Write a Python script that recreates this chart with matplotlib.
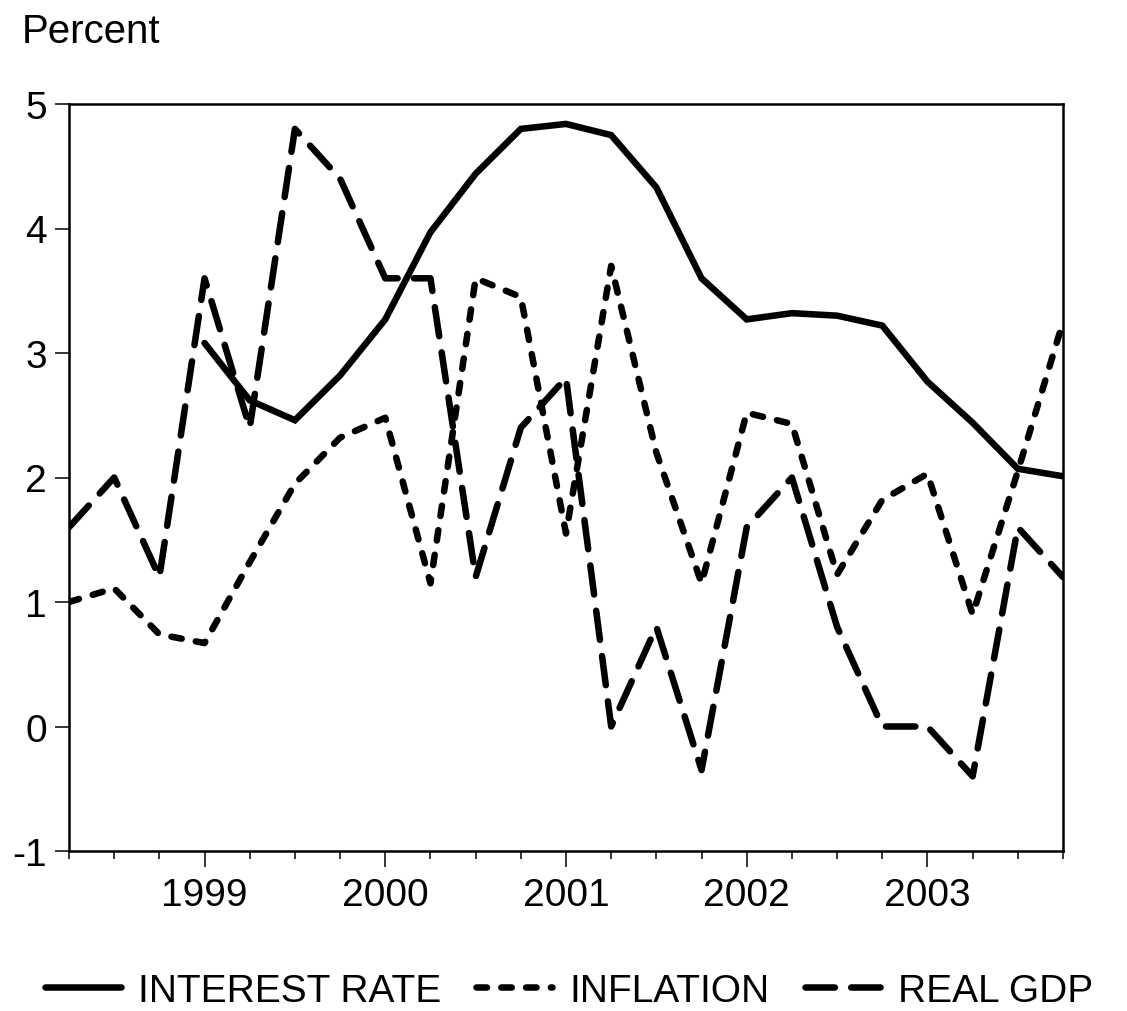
import matplotlib
matplotlib.use("Agg")
import matplotlib.pyplot as plt
import numpy as np

plt.rcParams['font.family'] = ['Liberation Sans', 'DejaVu Sans']

# Quarterly periods 1998Q2 .. 2003Q4 (decimal year, Q1 = year.00)
quarters = ["1998Q2", "1998Q3", "1998Q4",
            "1999Q1", "1999Q2", "1999Q3", "1999Q4",
            "2000Q1", "2000Q2", "2000Q3", "2000Q4",
            "2001Q1", "2001Q2", "2001Q3", "2001Q4",
            "2002Q1", "2002Q2", "2002Q3", "2002Q4",
            "2003Q1", "2003Q2", "2003Q3", "2003Q4"]

interest_rate = [np.nan, np.nan, np.nan,
                 3.08, 2.62, 2.46, 2.82,
                 3.27, 3.97, 4.44, 4.80,
                 4.84, 4.75, 4.33, 3.60,
                 3.27, 3.32, 3.30, 3.22,
                 2.77, 2.44, 2.07, 2.01]

inflation = [1.00, 1.11, 0.74,
             0.67, 1.32, 1.95, 2.32,
             2.48, 1.15, 3.60, 3.45,
             1.55, 3.70, 2.20, 1.15,
             2.52, 2.43, 1.22, 1.82,
             2.03, 0.90, 2.05, 3.25]

real_gdp = [1.6, 2.0, 1.2,
            3.6, 2.4, 4.8, 4.4,
            3.6, 3.6, 1.2, 2.4,
            2.8, 0.0, 0.8, -0.35,
            1.6, 2.0, 0.8, 0.0,
            0.0, -0.4, 1.6, 1.2]

year_labels = ["1999", "2000", "2001", "2002", "2003"]
y_ticks = [-1, 0, 1, 2, 3, 4, 5]
series_names = ["INTEREST RATE", "INFLATION", "REAL GDP"]


def qpos(q):
    return int(q[:4]) + (int(q[5]) - 1) * 0.25


x = np.array([qpos(q) for q in quarters])

W, H = 1127, 1012
fig = plt.figure(figsize=(W / 100, H / 100), dpi=100)
L, R, T, B = 69, 1063, 105, 852
ax = fig.add_axes([L / W, 1 - B / H, (R - L) / W, (B - T) / H])

lw = 4.7
ax.plot(x, interest_rate, color='black', lw=lw, solid_capstyle='round',
        solid_joinstyle='miter', label=series_names[0])
ax.plot(x, inflation, color='black', lw=lw, linestyle=(0, (1.6, 2.2)),
        dash_capstyle='round', label=series_names[1])
ax.plot(x, real_gdp, color='black', lw=lw, linestyle=(0, (4.5, 2.5)),
        dash_capstyle='round', label=series_names[2])

ax.set_xlim(x[0], x[-1])
ax.set_ylim(-1, 5)

years = [int(y) for y in year_labels]
ax.set_xticks(years)
ax.set_xticklabels(year_labels)
minor = [v for v in x if v not in years]
ax.set_xticks(minor, minor=True)
ax.set_yticks(y_ticks)
ax.set_yticklabels([str(v) for v in y_ticks])

ax.tick_params(axis='x', which='major', direction='out', length=11.5, width=1.1,
               pad=7, labelsize=28)
ax.tick_params(axis='x', which='minor', direction='out', length=5.8, width=1.1)
ax.tick_params(axis='y', which='major', direction='out', length=10, width=1.1,
               pad=6, labelsize=28)
for s in ax.spines.values():
    s.set_linewidth(1.8)

fig.text(22 / W, 1 - 43 / H, "Percent", fontsize=29, va='baseline', ha='left')

fig.legend(loc='lower center', bbox_to_anchor=(0.505, 0.002), ncol=3,
           frameon=False, fontsize=28, handlelength=1.95, handletextpad=0.45,
           columnspacing=0.9, borderaxespad=0, borderpad=0.0)

fig.savefig("out.png", dpi=100)
